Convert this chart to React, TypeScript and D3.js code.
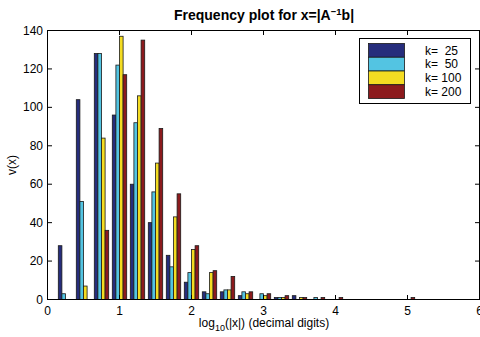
import React from "react";
import * as d3 from "d3";

const binCenters = [0.25, 0.5, 0.75, 1.0, 1.25, 1.5, 1.75, 2.0, 2.25, 2.5, 2.75, 3.0, 3.25, 3.5, 3.75, 4.0, 4.25, 4.5, 4.75, 5.0];
const seriesNames = ["k=  25", "k=  50", "k= 100", "k= 200"];
const k25 = [28, 104, 128, 96, 60, 40, 23, 9, 4, 4, 2, 0, 1, 2, 0, 0, 0, 0, 0, 0];
const k50 = [3, 51, 128, 122, 92, 56, 17, 14, 3, 5, 4, 3, 1, 0, 1, 0, 0, 0, 0, 0];
const k100 = [0, 7, 84, 137, 106, 71, 43, 26, 14, 5, 3, 2, 1, 1, 0, 0, 0, 0, 0, 0];
const k200 = [0, 0, 36, 117, 135, 89, 55, 28, 15, 12, 4, 3, 2, 1, 1, 1, 0, 0, 0, 1];
const xTicks = [0, 1, 2, 3, 4, 5, 6];
const yTicks = [0, 20, 40, 60, 80, 100, 120, 140];
const colors = ["#262d7c", "#53c4e2", "#f4dc22", "#8c1a1d"];

export default function App() {
  const W = 480, H = 337;
  const left = 47.5, right = 479.5, top = 30.5, bottom = 299.5;
  const x = d3.scaleLinear().domain([0, 6]).range([left, right]);
  const y = d3.scaleLinear().domain([0, 140]).range([bottom, top]);
  const series = [k25, k50, k100, k200];
  const binStep = 0.25;
  const bw = x(binStep * 0.2) - x(0);
  const font = "'Liberation Sans', Arial, Helvetica, sans-serif";
  const tickLen = 4.5;

  const legX = 359.5, legY = 38.5, legW = 111, legH = 65;
  const swX = 368.5, swW = 36, swY0 = 43.5, swH = 13.75;

  return (
    <svg width={W} height={H} style={{ position: "absolute", left: 0, top: 0, background: "#fff" }} fontFamily={font}>
      <rect x={0} y={0} width={W} height={H} fill="#fff" />
      {series.map((vals, si) =>
        vals.map((v, bi) =>
          v > 0 ? (
            <rect
              key={`${si}-${bi}`}
              x={x(binCenters[bi]) + (si - 2) * bw}
              y={y(v)}
              width={bw}
              height={y(0) - y(v)}
              fill={colors[si]}
              stroke="#1a1a1a"
              strokeWidth={0.8}
            />
          ) : null
        )
      )}
      <rect x={left} y={top} width={right - left} height={bottom - top} fill="none" stroke="#000" strokeWidth={1} />
      {xTicks.map((t) => (
        <g key={`xt${t}`}>
          <line x1={x(t)} x2={x(t)} y1={bottom} y2={bottom - tickLen} stroke="#000" />
          <line x1={x(t)} x2={x(t)} y1={top} y2={top + tickLen} stroke="#000" />
          <text x={x(t)} y={315} textAnchor="middle" fontSize={12} fill="#000">
            {t}
          </text>
        </g>
      ))}
      {yTicks.map((t) => (
        <g key={`yt${t}`}>
          <line x1={left} x2={left + tickLen} y1={y(t)} y2={y(t)} stroke="#000" />
          <line x1={right} x2={right - tickLen} y1={y(t)} y2={y(t)} stroke="#000" />
          <text x={43} y={y(t) + 4} textAnchor="end" fontSize={12} fill="#000">
            {t}
          </text>
        </g>
      ))}
      <text x={264} y={20} textAnchor="middle" fontSize={14} fontWeight="bold" fill="#000">
        Frequency plot for x=|A
        <tspan fontSize={9.5} dy={-5}>−1</tspan>
        <tspan dy={5}>b|</tspan>
      </text>
      <text x={264} y={327} textAnchor="middle" fontSize={12} fill="#000">
        log
        <tspan fontSize={9} dy={4}>10</tspan>
        <tspan dy={-4}>(|x|) (decimal digits)</tspan>
      </text>
      <text transform={`translate(16,${(top + bottom) / 2}) rotate(-90)`} textAnchor="middle" fontSize={12} fill="#000">
        v(x)
      </text>
      <rect x={legX} y={legY} width={legW} height={legH} fill="#fff" stroke="#000" strokeWidth={1} />
      {seriesNames.map((name, i) => (
        <g key={name}>
          <rect x={swX} y={swY0 + i * swH} width={swW} height={swH} fill={colors[i]} stroke="#1a1a1a" strokeWidth={0.8} />
          <text x={425} y={swY0 + i * swH + swH / 2 + 4.2} fontSize={12} fill="#000" style={{ whiteSpace: "pre" }}>
            {name}
          </text>
        </g>
      ))}
    </svg>
  );
}
